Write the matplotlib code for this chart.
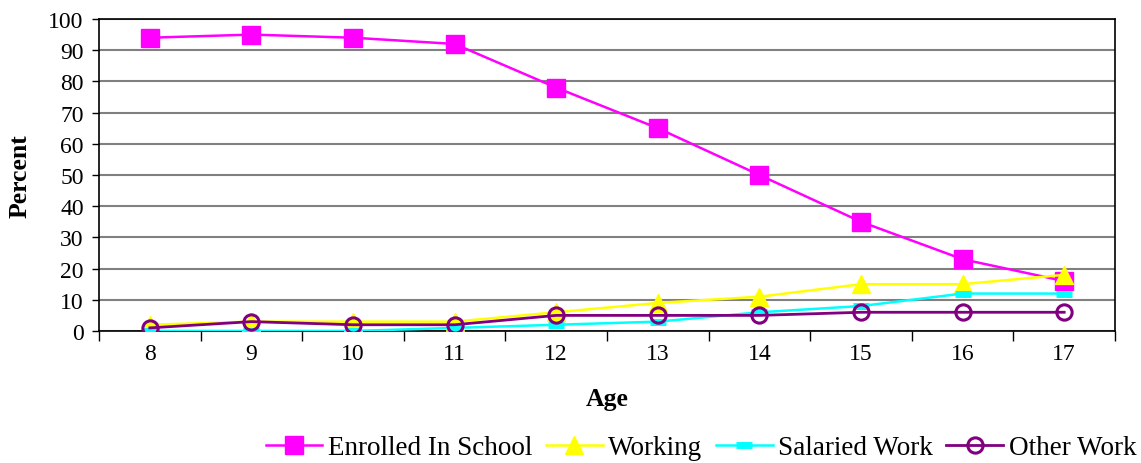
import matplotlib.pyplot as plt
from matplotlib.ticker import FixedLocator, MultipleLocator

plt.rcParams['font.family'] = ['Liberation Serif', 'DejaVu Serif']

# data
ages = [8, 9, 10, 11, 12, 13, 14, 15, 16, 17]
enrolled = [94, 95, 94, 92, 78, 65, 50, 35, 23, 16]
working = [2, 3, 3, 3, 6, 9, 11, 15, 15, 18]
salaried = [0, 0, 0, 1, 2, 3, 6, 8, 12, 12]
other = [1, 3, 2, 2, 5, 5, 5, 6, 6, 6]

fig = plt.figure(figsize=(11.41, 4.64), dpi=100)
ax = fig.add_axes([0.0868, 0.2845, 0.8904, 0.6724])

ax.plot(ages, enrolled, color='#ff00ff', lw=1.8, marker='s', ms=13,
        label='Enrolled In School', zorder=3)
ax.plot(ages, working, color='#ffff00', lw=1.8, marker='^', ms=13,
        label='Working', zorder=4)
ax.plot(ages, salaried, color='#00ffff', lw=1.8, marker='_', ms=11, mew=5,
        label='Salaried Work', zorder=5)
ax.plot(ages, other, color='#800080', lw=2, marker='o', ms=11, mew=2.2,
        mfc='none', label='Other Work', zorder=6)

ax.set_xlim(7.5, 17.5)
ax.set_ylim(0, 100)
ax.yaxis.set_major_locator(MultipleLocator(10))
ax.set_xticks(ages)
ax.xaxis.set_minor_locator(FixedLocator([a + 0.5 for a in [7] + ages]))
ax.tick_params(axis='x', which='major', length=0, pad=9, labelsize=17)
ax.tick_params(axis='x', which='minor', length=7, width=1)
ax.tick_params(axis='y', length=5, width=1, labelsize=17, pad=6)
ax.grid(axis='y', color='#808080', lw=1.5, zorder=0)
for s in ax.spines.values():
    s.set_color('black')
    s.set_linewidth(1.2)

ax.set_xlabel('Age', fontsize=18.5, fontweight='bold', labelpad=16)
ax.set_ylabel('Percent', fontsize=18.5, fontweight='bold', labelpad=12)

fig.legend(loc='lower right', bbox_to_anchor=(1.009, -0.026), ncol=4, frameon=False,
           fontsize=19.5, handlelength=2.1, handletextpad=0.2, columnspacing=0.5,
           borderaxespad=0.15)

fig.savefig('out.png')
